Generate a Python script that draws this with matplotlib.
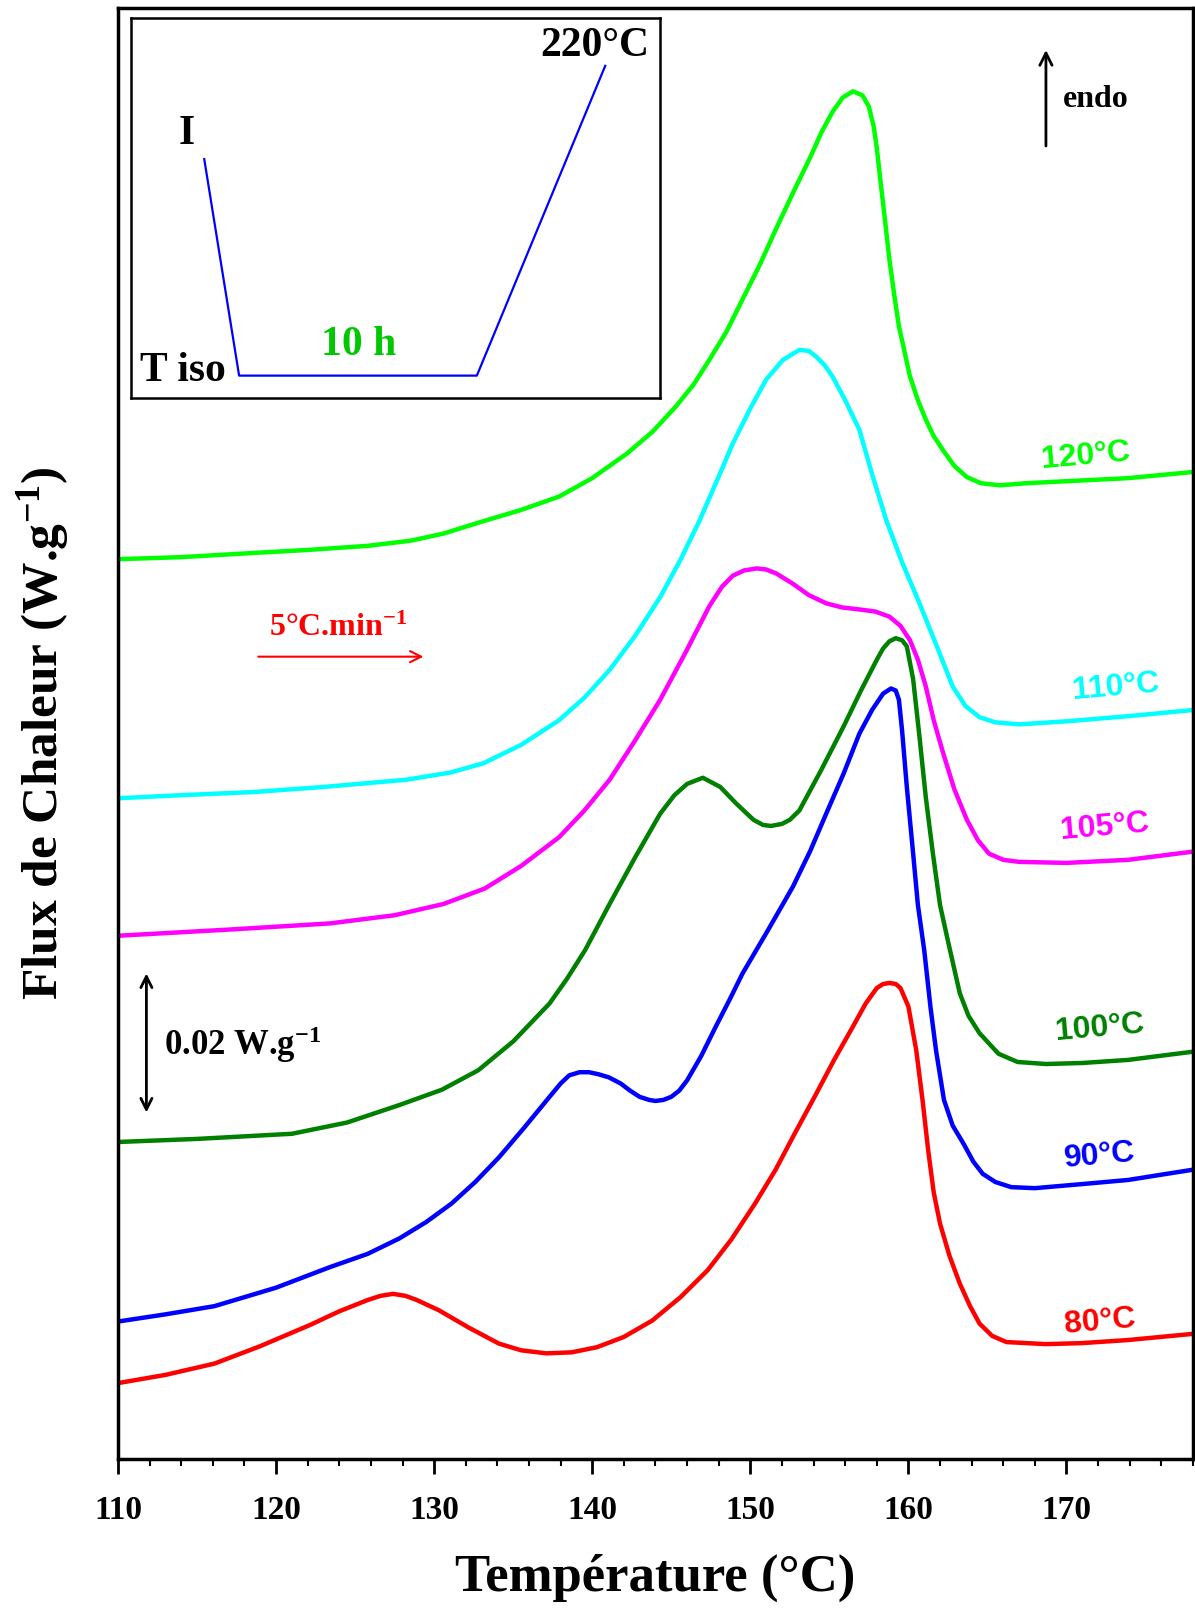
import matplotlib
matplotlib.use("Agg")
import matplotlib.pyplot as plt
from matplotlib.ticker import MultipleLocator

plt.rcParams['font.family'] = ['Liberation Serif', 'DejaVu Serif']
plt.rcParams['font.weight'] = 'bold'
plt.rcParams['mathtext.fontset'] = 'custom'
plt.rcParams['mathtext.rm'] = 'Liberation Serif:bold'
plt.rcParams['mathtext.bf'] = 'Liberation Serif:bold'
plt.rcParams['mathtext.it'] = 'Liberation Serif:bold'

# DSC traces, heat flow shifted vertically (a.u., 13.7 units = 0.02 W/g)
t_120 = [110, 114, 118.5, 122, 125.8, 128.5, 130.6, 133.1, 135.5, 137.9, 140, 142.2,
         143.8, 145.3, 146.4, 147.4, 148.5, 149.5, 150.6, 151.6, 152.7, 153.8, 154.5, 155.2,
         155.85, 156.5, 157.1, 157.5, 157.8, 158.0, 158.2, 158.5, 158.8, 159.1, 159.4, 159.8,
         160.1, 160.6, 161.1, 161.6, 162.2, 162.9, 163.7, 164.6, 165.8, 167.4, 170, 173.9, 178]
q_120 = [87.7, 87.9, 88.3, 88.6, 89.0, 89.5, 90.2, 91.4, 92.5, 93.8, 95.6, 98.0,
         100.1, 102.6, 104.7, 107.1, 109.9, 113.0, 116.4, 119.8, 123.4, 126.9, 129.3, 131.3,
         132.7, 133.3, 132.9, 131.8, 129.9, 127.8, 125.0, 121.0, 116.9, 113.5, 110.4, 107.6,
         105.5, 103.2, 101.3, 99.7, 98.3, 96.8, 95.7, 95.1, 94.9, 95.1, 95.3, 95.6, 96.2]

t_110 = [110, 114, 118.5, 123, 128.2, 131, 133.1, 135.5, 137.9, 139.5, 141.1, 142.7,
         144.3, 145.6, 146.8, 147.9, 148.9, 150.0, 151.0, 152.05, 153.1, 153.7, 154.2, 154.7,
         155.2, 156.0, 156.9, 157.7, 158.6, 159.6, 160.7, 161.8, 162.8, 163.6, 164.5, 165.5,
         167.0, 170, 173.9, 178]
q_110 = [64.4, 64.7, 65.0, 65.5, 66.2, 66.9, 67.8, 69.6, 72.0, 74.2, 76.9, 80.2,
         84.0, 87.7, 91.5, 95.4, 99.0, 102.4, 105.2, 107.1, 108.1, 108.0, 107.4, 106.6,
         105.5, 103.2, 100.3, 96.0, 91.5, 87.4, 83.4, 79.2, 75.3, 73.4, 72.3, 71.8,
         71.6, 71.9, 72.4, 73.0]

t_105 = [110, 117, 123.4, 127.5, 130.6, 133.2, 135.5, 137.9, 139.5, 141.1, 142.7, 144.3,
         145.9, 147.4, 148.2, 148.9, 149.6, 150.4, 151.0, 151.65, 152.7, 153.7, 154.8, 155.8,
         156.9, 157.9, 158.8, 159.5, 160.1, 160.6, 161.1, 161.6, 162.2, 162.9, 163.7, 164.4,
         165.1, 166.0, 167.0, 170, 173.9, 178]
q_105 = [51.0, 51.6, 52.2, 53.0, 54.1, 55.6, 57.8, 60.6, 63.2, 66.2, 70.0, 74.0,
         78.6, 83.1, 85.0, 86.1, 86.6, 86.8, 86.7, 86.3, 85.3, 84.2, 83.4, 83.0,
         82.8, 82.6, 82.1, 81.2, 79.8, 77.9, 75.3, 72.0, 68.8, 65.3, 62.3, 60.3,
         59.0, 58.4, 58.2, 58.1, 58.4, 59.2]

t_100 = [110, 115, 121.0, 124.5, 127.8, 130.5, 132.8, 135.0, 137.3, 138.4, 139.55, 141.1,
         142.7, 144.3, 145.2, 146.0, 147.0, 148.1, 149.1, 150.2, 150.8, 151.3, 152.0, 152.5,
         153.1, 154.5, 155.9, 157.0, 158.0, 158.4, 158.8, 159.2, 159.6, 159.9, 160.3, 160.7,
         161.1, 161.55, 162.0, 162.5, 163.25, 163.8, 164.5, 165.7, 166.9, 168.7, 171, 173.9, 178]
q_100 = [30.9, 31.2, 31.7, 32.8, 34.5, 36.0, 37.9, 40.7, 44.4, 46.8, 49.6, 54.1,
         58.6, 62.9, 64.7, 65.8, 66.4, 65.5, 63.9, 62.3, 61.8, 61.7, 61.9, 62.3,
         63.2, 67.2, 71.4, 74.9, 77.9, 79.0, 79.7, 80.0, 79.8, 79.2, 76.0, 70.4,
         64.5, 59.0, 54.0, 50.5, 45.4, 43.2, 41.5, 39.5, 38.7, 38.5, 38.6, 38.9, 39.7]

t_90 = [110, 113, 116.1, 120, 123.4, 125.8, 127.8, 129.5, 131.1, 132.6, 134.1, 135.7,
        137.3, 138.0, 138.55, 139.2, 139.8, 140.4, 141.05, 141.8, 142.4, 143.0, 143.6, 144.0,
        144.5, 145.0, 145.5, 146.0, 146.9, 147.8, 148.7, 149.5, 151.1, 152.7, 153.8, 154.8,
        155.9, 156.9, 157.7, 158.4, 158.9, 159.2, 159.4, 159.6, 159.9, 160.3, 160.6, 161.0,
        161.4, 161.75, 162.25, 162.8, 163.5, 164.1, 164.7, 165.5, 166.5, 168.0, 171, 173.9, 178]
q_90 = [13.4, 14.1, 14.9, 16.7, 18.7, 20.0, 21.5, 23.1, 24.9, 27.0, 29.4, 32.3,
        35.3, 36.6, 37.4, 37.7, 37.7, 37.5, 37.2, 36.6, 35.9, 35.3, 35.0, 34.9,
        35.0, 35.3, 35.9, 36.9, 39.3, 42.1, 44.8, 47.3, 51.5, 55.8, 59.3, 62.9,
        66.8, 70.7, 73.0, 74.6, 75.1, 74.9, 74.0, 71.0, 65.5, 59.0, 54.0, 49.6,
        44.0, 39.8, 35.0, 32.5, 30.7, 29.0, 27.8, 27.0, 26.5, 26.4, 26.8, 27.2, 28.2]

t_80 = [110, 113, 116.1, 119, 122.2, 124, 125.8, 126.6, 127.4, 128.2, 128.9, 130.3,
        132.2, 134.1, 135.5, 137.1, 138.7, 140.3, 142.0, 143.8, 145.6, 147.3, 148.8, 150.3,
        151.6, 152.8, 154.1, 155.3, 156.4, 157.3, 158.0, 158.4, 158.8, 159.2, 159.5, 160.0,
        160.5, 160.9, 161.25, 161.6, 162.0, 162.6, 163.25, 163.9, 164.5, 165.3, 166.2, 168.7,
        171, 173.9, 178]
q_80 = [7.4, 8.2, 9.3, 11.0, 13.1, 14.4, 15.5, 15.9, 16.1, 15.9, 15.5, 14.5,
        12.8, 11.25, 10.6, 10.3, 10.4, 10.9, 11.9, 13.5, 15.8, 18.4, 21.4, 24.9,
        28.2, 31.7, 35.4, 38.9, 41.9, 44.4, 45.9, 46.3, 46.4, 46.3, 45.9, 44.1,
        39.8, 34.9, 30.1, 26.0, 22.95, 19.8, 17.1, 14.9, 13.2, 12.0, 11.4, 11.2,
        11.3, 11.6, 12.2]

# thermal programme sketched in the inset (arbitrary units)
prog_time = [13.8, 20.4, 65.4, 89.7]
prog_temp = [62.8, 5.9, 5.9, 87.3]

traces = [
    (t_120, q_120, '#00FF00', '120°C', 171.2, 97.7),
    (t_110, q_110, '#00FFFF', '110°C', 173.1, 75.2),
    (t_105, q_105, '#FF00FF', '105°C', 172.4, 61.6),
    (t_100, q_100, '#008000', '100°C', 172.1, 42.0),
    (t_90, q_90, '#0000FF', '90°C', 172.1, 29.5),
    (t_80, q_80, '#FF0000', '80°C', 172.1, 13.4),
]

fig = plt.figure(figsize=(11.95, 16.09), dpi=100)
ax = fig.add_axes([0.0987, 0.0932, 0.8996, 0.9017])

for t, q, col, lab, lx, ly in traces:
    ax.plot(t, q, color=col, lw=3.2, solid_joinstyle='round', solid_capstyle='round')
    ax.text(lx, ly, lab, color=col, fontsize=23, fontweight='bold', family='Liberation Sans',
            ha='center', va='center', rotation=5)

ax.set_xlim(110, 178)
ax.set_ylim(0, 141.4)
ax.set_yticks([])
ax.xaxis.set_major_locator(MultipleLocator(10))
ax.xaxis.set_minor_locator(MultipleLocator(2))
ax.set_xticks(range(110, 180, 10))
ax.tick_params(axis='x', which='major', direction='out', length=11, width=2, labelsize=24, pad=15)
ax.tick_params(axis='x', which='minor', direction='out', length=5, width=1.5)
for lbl in ax.get_xticklabels():
    lbl.set_fontweight('bold')
for sp in ax.spines.values():
    sp.set_linewidth(2.5)

ax.set_xlabel('Température (°C)', fontsize=38, fontweight='bold', labelpad=20)
ax.set_ylabel('Flux de Chaleur (W.g$^{\\mathbf{-1}}$)', fontsize=37, fontweight='bold')
ax.yaxis.set_label_coords(-0.044, 0.5)

# endo arrow
ax.annotate('', xy=(168.7, 137.6), xytext=(168.7, 127.7),
            arrowprops=dict(arrowstyle='->', color='black', lw=2, mutation_scale=22))
ax.text(169.8, 132.5, 'endo', fontsize=23, fontweight='bold', va='center', ha='left')

# heating rate
ax.annotate('', xy=(129.5, 78.2), xytext=(118.7, 78.2),
            arrowprops=dict(arrowstyle='->', color='red', lw=1.5, mutation_scale=20))
ax.text(123.9, 81.0, '5°C.min$^{\\mathbf{-1}}$', color='red', fontsize=23,
        fontweight='bold', ha='center', va='center')

# scale bar
ax.annotate('', xy=(111.8, 47.6), xytext=(111.8, 33.5),
            arrowprops=dict(arrowstyle='<->', color='black', lw=2, mutation_scale=20))
ax.text(112.9, 40.4, '0.02 W.g$^{\\mathbf{-1}}$', fontsize=25, fontweight='bold',
        ha='left', va='center')

# inset with the thermal programme
ins = fig.add_axes([0.1099, 0.7526, 0.4421, 0.2365])
ins.plot(prog_time, prog_temp, color='#0000FF', lw=1.6)
ins.set_xlim(0, 100)
ins.set_ylim(0, 100)
ins.set_xticks([])
ins.set_yticks([])
for sp in ins.spines.values():
    sp.set_linewidth(1.8)
ins.text(10.5, 69.5, 'I', fontsize=30, fontweight='bold', ha='center', va='center')
ins.text(9.7, 7.0, 'T iso', fontsize=30, fontweight='bold', ha='center', va='center')
ins.text(43.1, 14.0, '10 h', fontsize=30, fontweight='bold', color='#00C800',
         ha='center', va='center')
ins.text(87.8, 92.5, '220°C', fontsize=30, fontweight='bold', ha='center', va='center')

fig.savefig('out.png', dpi=100)
